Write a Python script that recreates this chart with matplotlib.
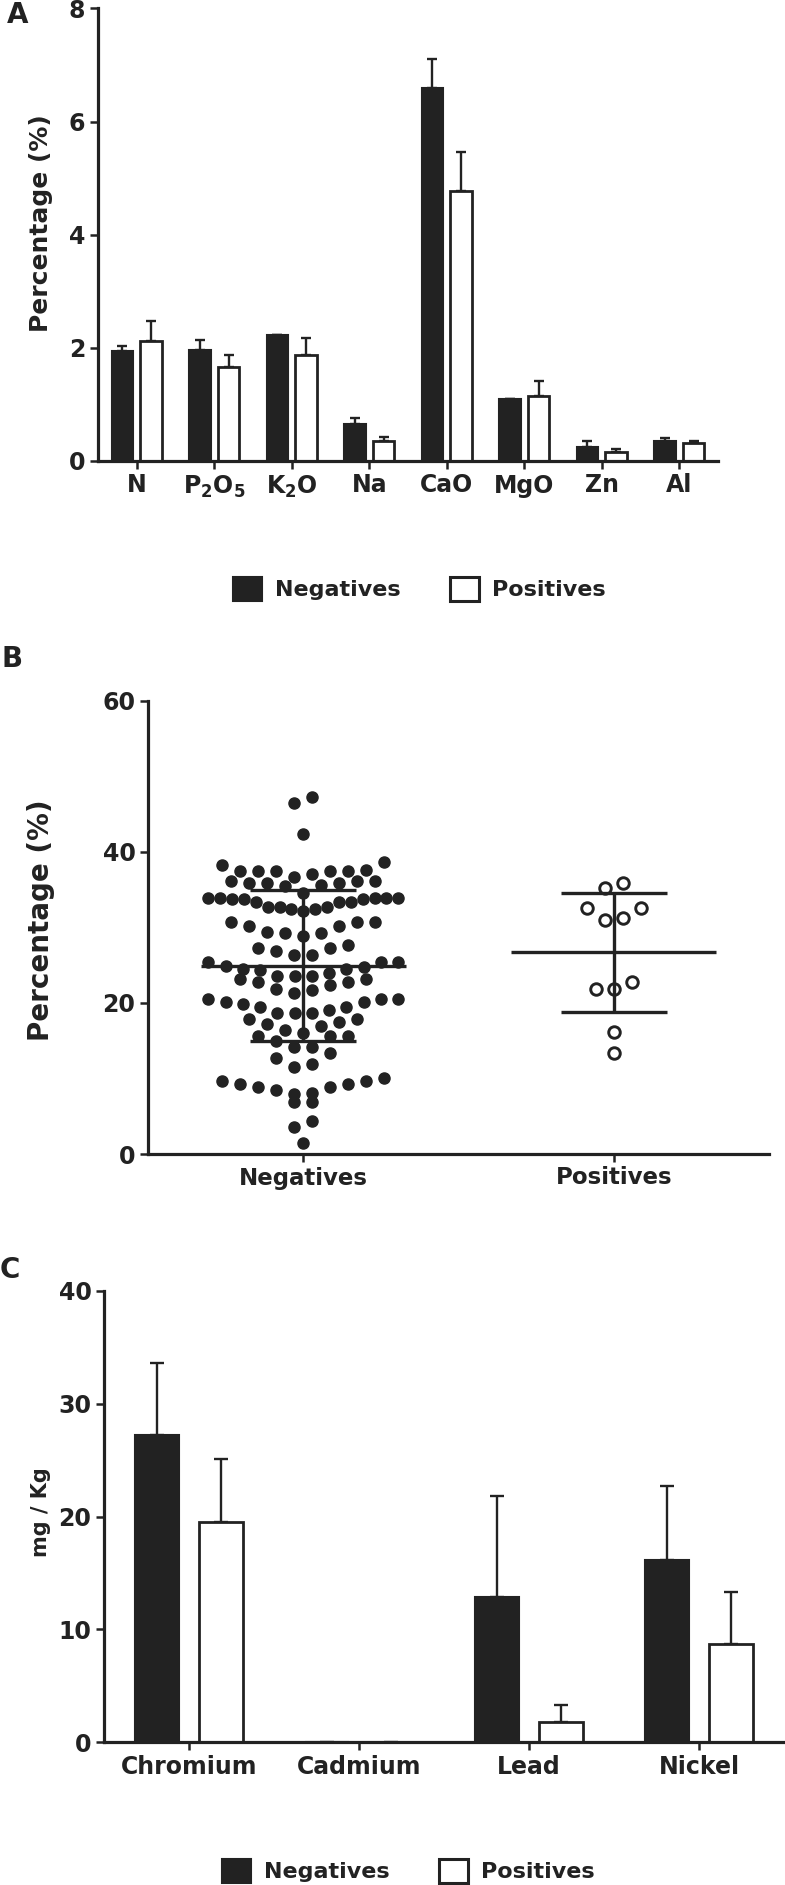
import matplotlib
matplotlib.use('Agg')
import matplotlib.pyplot as plt
import numpy as np
from matplotlib.patches import Patch

plt.rcParams['font.family'] = ['DejaVu Sans']
plt.rcParams['font.weight'] = 'bold'
plt.rcParams['mathtext.fontset'] = 'dejavusans'
plt.rcParams['mathtext.default'] = 'bf'

INK = '#222222'

# ---------------- data ----------------
a_categories = ['N', 'P$_2$O$_5$', 'K$_2$O', 'Na', 'CaO', 'MgO', 'Zn', 'Al']
a_neg = [1.94, 1.97, 2.22, 0.66, 6.59, 1.09, 0.24, 0.35]
a_neg_err = [0.10, 0.16, 0.00, 0.10, 0.52, 0.00, 0.11, 0.06]
a_pos = [2.12, 1.67, 1.88, 0.35, 4.78, 1.15, 0.16, 0.31]
a_pos_err = [0.36, 0.20, 0.30, 0.07, 0.69, 0.26, 0.06, 0.05]
a_yticks = [0, 2, 4, 6, 8]

b_groups = ['Negatives', 'Positives']
b_negatives = [47.3, 46.5, 42.3, 38.6, 38.2, 37.6, 37.4, 37.4, 37.4, 37.4, 37.4,
               36.7, 37.0, 36.2, 35.9, 35.9, 35.5, 35.6, 35.9, 36.2, 36.2, 34.5, 33.8,
               33.9, 33.9, 33.9, 33.7, 33.3, 32.7, 32.7, 32.4, 32.2, 32.4, 32.7, 33.3,
               33.3, 33.7, 33.9, 33.9,
               30.7, 30.2, 29.4, 29.2, 29.2, 30.2, 30.7, 30.7,
               27.6, 27.3, 26.4, 26.4, 26.9, 27.3, 28.8,
               25.4, 25.4, 24.7, 24.5, 23.9, 24.3, 24.5, 24.9, 25.4,
               23.5, 23.2, 22.8, 22.4, 21.7, 21.3, 21.9, 22.8, 23.2, 23.5, 23.5,
               20.5, 20.1, 19.8, 19.4, 18.7, 18.6, 18.7, 19.0, 19.4, 20.1, 20.5, 20.5,
               17.9, 17.5, 16.9, 16.0, 15.6, 15.6, 15.6, 16.4, 17.2, 17.9,
               14.9, 14.2, 14.2, 12.7, 13.4, 11.5, 11.9,
               9.3, 8.9, 8.5, 9.7, 8.0, 9.7, 10.0, 8.1, 8.9, 9.3,
               6.9, 6.9, 4.4, 3.6, 1.4]
b_positives = [35.2, 35.9, 32.5, 31.3, 31.0, 32.5, 22.8, 21.9, 21.9, 16.1, 13.4]
b_mean = [24.9, 26.7]
b_sd = [10.0, 7.85]
b_yticks = [0, 20, 40, 60]

c_categories = ['Chromium', 'Cadmium', 'Lead', 'Nickel']
c_neg = [27.2, 0.0, 12.85, 16.1]
c_neg_err = [6.4, 0.0, 9.0, 6.6]
c_pos = [19.5, 0.0, 1.8, 8.7]
c_pos_err = [5.6, 0.0, 1.45, 4.6]
c_yticks = [0, 10, 20, 30, 40]

legend_labels = ['Negatives', 'Positives']

# ---------------- figure ----------------
W, H = 785, 1885
fig = plt.figure(figsize=(W / 100, H / 100), dpi=100)


def box(l, t, r, b):
    return [l / W, 1 - b / H, (r - l) / W, (b - t) / H]


def style(ax, ylim, yticks):
    for s in ['top', 'right']:
        ax.spines[s].set_visible(False)
    for s in ['left', 'bottom']:
        ax.spines[s].set_linewidth(2.3)
        ax.spines[s].set_color(INK)
    ax.set_ylim(*ylim)
    ax.set_yticks(yticks)
    ax.tick_params(axis='both', direction='out', length=6, width=1.8, color=INK,
                   labelsize=17, labelcolor=INK, pad=3)
    for lab in ax.get_xticklabels() + ax.get_yticklabels():
        lab.set_fontweight('bold')


def grouped_bars(ax, cats, neg, negerr, pos, poserr, width, off, capsize):
    x = np.arange(len(cats))
    neg = np.asarray(neg, float)
    pos = np.asarray(pos, float)
    ne = np.where(neg > 0, np.asarray(negerr, float), np.nan)
    pe = np.where(pos > 0, np.asarray(poserr, float), np.nan)
    ax.errorbar(x - off, neg, yerr=[np.zeros_like(ne), ne], fmt='none', ecolor=INK,
                elinewidth=1.7, capsize=capsize, capthick=1.7, zorder=1)
    ax.errorbar(x + off, pos, yerr=[np.zeros_like(pe), pe], fmt='none', ecolor=INK,
                elinewidth=1.7, capsize=capsize, capthick=1.7, zorder=1)
    ax.bar(x - off, neg, width, color=INK, edgecolor=INK, linewidth=1.5, zorder=2)
    ax.bar(x + off, pos, width, color='white', edgecolor=INK, linewidth=2.0, zorder=2)
    ax.set_xlim(-0.5, len(cats) - 0.5)
    ax.set_xticks(x)
    ax.set_xticklabels(cats)


def add_legend(cx, cy):
    handles = [Patch(facecolor=INK, edgecolor=INK, linewidth=1.5),
               Patch(facecolor='white', edgecolor=INK, linewidth=2.2)]
    fig.legend(handles, legend_labels, loc='center', bbox_to_anchor=(cx / W, 1 - cy / H),
               ncol=2, frameon=False, prop={'size': 16, 'weight': 'bold'},
               handlelength=1.3, handleheight=1.3, handletextpad=0.6,
               columnspacing=2.2, labelcolor=INK)


# ---------------- Panel A ----------------
axA = fig.add_axes(box(98, 8.4, 718, 461))
grouped_bars(axA, a_categories, a_neg, a_neg_err, a_pos, a_pos_err, 0.28, 0.185, 3.6)
style(axA, (0, 8), a_yticks)
axA.set_ylabel('Percentage (%)', fontsize=18, fontweight='bold', color=INK)
axA.yaxis.set_label_coords((41 - 98) / 620, 0.525)
axA.yaxis.label.set_verticalalignment('center')
add_legend(419.5, 589)
fig.text(18 / W, 1 - 15 / H, 'A', fontsize=20, fontweight='bold', color=INK,
         ha='center', va='center')

# ---------------- Panel B ----------------
axB = fig.add_axes(box(148, 700.7, 769, 1154))
style(axB, (0, 60), b_yticks)
axB.set_xlim(-0.5, 1.5)
axB.set_xticks([0, 1])
axB.set_xticklabels(b_groups)
for lab in axB.get_xticklabels():
    lab.set_fontweight('bold')
    lab.set_fontsize(16.5)


def row_swarm(ax, xc, vals, row_h, step, max_half):
    """Column-scatter layout: values are grouped into horizontal rows, and in each
    row the points are spread symmetrically, lowest value nearest the centre."""
    vals = np.asarray(vals, float)
    pix = ax.transData.transform(np.column_stack([np.full(len(vals), xc), vals]))
    ys = pix[:, 1]
    x0 = pix[0, 0]
    order = np.argsort(-ys, kind='stable')
    rows, cur = [], [order[0]]
    for i in order[1:]:
        if ys[cur[0]] - ys[i] <= row_h:
            cur.append(i)
        else:
            rows.append(cur)
            cur = [i]
    rows.append(cur)
    offs = np.zeros(len(vals))
    for r in rows:
        n = len(r)
        s = step if n < 2 else min(step, 2 * max_half / (n - 1))
        slots = [(k - (n - 1) / 2) * s for k in range(n)]
        slots.sort(key=lambda v: (round(abs(v), 6), v))
        members = sorted(r, key=lambda i: ys[i])
        for i, sl in zip(members, slots):
            offs[i] = sl
    back = ax.transData.inverted().transform(np.column_stack([x0 + offs, ys]))
    return back[:, 0]


xn = row_swarm(axB, 0, b_negatives, 16.5, 18, 95)
xp = row_swarm(axB, 1, b_positives, 16.5, 18, 95)
axB.plot(xn, b_negatives, 'o', ms=8, color=INK, mec=INK, zorder=3, clip_on=False)
axB.plot(xp, b_positives, 'o', ms=8.3, mfc='white', mec=INK, mew=2.1, zorder=3,
         clip_on=False)
for i, (m, s) in enumerate(zip(b_mean, b_sd)):
    axB.hlines(m, i - 0.33, i + 0.33, color=INK, lw=2.4, zorder=4)
    axB.hlines([m - s, m + s], i - 0.17, i + 0.17, color=INK, lw=2.4, zorder=4)
    axB.vlines(i, m - s, m + s, color=INK, lw=2.4, zorder=4)
axB.set_ylabel('Percentage (%)', fontsize=20, fontweight='bold', color=INK)
axB.yaxis.set_label_coords((41 - 148) / 621, 0.515)
axB.yaxis.label.set_verticalalignment('center')
fig.text(12 / W, 1 - 659 / H, 'B', fontsize=20, fontweight='bold', color=INK,
         ha='center', va='center')

# ---------------- Panel C ----------------
axC = fig.add_axes(box(104, 1291, 784, 1742))
grouped_bars(axC, c_categories, c_neg, c_neg_err, c_pos, c_pos_err, 0.26, 0.19, 5.0)
style(axC, (0, 40), c_yticks)
axC.set_ylabel('mg / Kg', fontsize=15, fontweight='bold', color=INK)
axC.yaxis.set_label_coords((41 - 104) / 680, 0.51)
axC.yaxis.label.set_verticalalignment('center')
add_legend(408.5, 1871)
fig.text(10 / W, 1 - 1270 / H, 'C', fontsize=20, fontweight='bold', color=INK,
         ha='center', va='center')

fig.savefig('out.png', dpi=100)
